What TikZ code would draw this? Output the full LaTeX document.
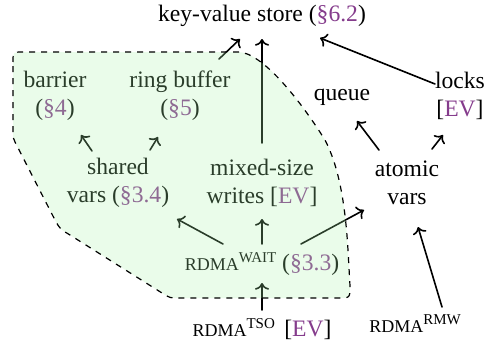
\documentclass[tikz,border=0pt]{standalone}
\usepackage{fontspec}
\setmainfont{Liberation Serif}
\definecolor{secref}{HTML}{853C8C}
\definecolor{regiongreen}{rgb}{0.67,0.96,0.67}
\usetikzlibrary{arrows.meta}
\newcommand{\sref}[1]{\textcolor{secref}{#1}}
\newcommand{\rdma}[1]{{\fontsize{9}{10}\selectfont RDMA}\raisebox{4pt}{\fontsize{7.5}{8}\selectfont #1}}
\def\regionpath{(13,62) .. controls (13,52) .. (23,52) -- (238,52)
	.. controls (262,52) and (300,100) .. (325,140)
	.. controls (338,165) and (345,200) .. (348,250)
	-- (350,286) .. controls (350,298) .. (338,298) -- (178,298)
	.. controls (170,298) .. (162,293) -- (70,235)
	.. controls (60,229) .. (55,220) -- (15,142)
	.. controls (13,138) .. (13,130) -- cycle}

\begin{document}
\begin{tikzpicture}[x=0.5pt,y=-0.5pt,
	every node/.style={align=center,inner sep=2pt,font=\fontsize{11.8}{13.8}\selectfont},
	dep/.style={->,thick,line cap=round}]
	\useasboundingbox (0,0) rectangle (503,348);
	% top
	\node (kv) at (262,16) {key-value store (\sref{§6.2})};
	\node (barrier) at (55,96) {barrier\\(\sref{§4})};
	\node (ring) at (180,96) {ring buffer\\(\sref{§5})};
	\node (queue) at (342,97) {queue};
	\node (locks) at (460,96) {locks\\{[}\sref{EV}]};
	% middle
	\node (shared) at (118,183) {shared\\vars (\sref{§3.4})};
	\node (mixed) at (262,183) {mixed-size\\writes [\sref{EV}]};
	\node (atomic) at (407,183) {atomic\\vars};
	% bottom
	\node (wait) at (262,264) {\rdma{WAIT} (\sref{§3.3})};
	\node (tso) at (262,329) {\rdma{TSO}\hspace{0.4em}[\sref{EV}]};
	\node (rmw) at (415,324) {\rdma{RMW}};
	% dependencies
	\draw[dep] ([shift={(39,-37)}]ring.center) -- ([shift={(-22,23)}]kv.center);
	\draw[dep] ([shift={(0,-40)}]mixed.center) -- ([shift={(0,23)}]kv.center);
	\draw[dep] ([shift={(-25,-12)}]locks.center) -- ([shift={(58,22)}]kv.center);
	\draw[dep] ([shift={(-26,-32)}]shared.center) -- ([shift={(26,39)}]barrier.center);
	\draw[dep] ([shift={(32,-33)}]shared.center) -- ([shift={(-22,41)}]ring.center);
	\draw[dep] ([shift={(-28,-33)}]atomic.center) -- ([shift={(15,24)}]queue.center);
	\draw[dep] ([shift={(25,-34)}]atomic.center) -- ([shift={(-17,39)}]locks.center);
	\draw[dep] ([shift={(-39,-20)}]wait.center) -- ([shift={(59,36)}]shared.center);
	\draw[dep] ([shift={(0,-20)}]wait.center) -- ([shift={(0,36)}]mixed.center);
	\draw[dep] ([shift={(39,-20)}]wait.center) -- ([shift={(-43,27)}]atomic.center);
	\draw[dep] ([shift={(0,-19)}]tso.center) -- ([shift={(0,19)}]wait.center);
	\draw[dep] ([shift={(27,-17)}]rmw.center) -- ([shift={(11,44)}]atomic.center);
	% region
	\fill[regiongreen,fill opacity=0.25] \regionpath;
	\draw[dashed,line width=0.6pt] \regionpath;
\end{tikzpicture}
\end{document}
